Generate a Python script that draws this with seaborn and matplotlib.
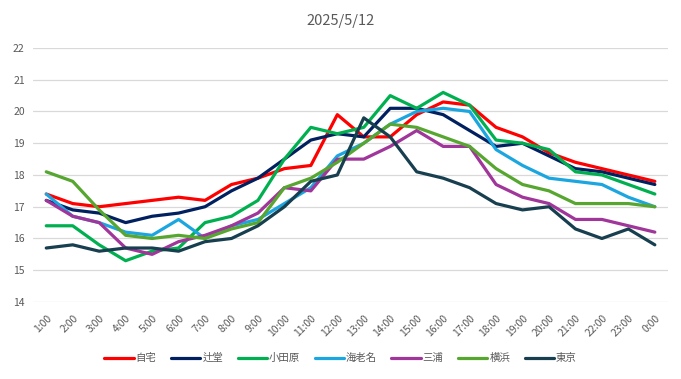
import numpy as np
import pandas as pd
import seaborn as sns
import matplotlib.pyplot as plt

hours = ["1:00", "2:00", "3:00", "4:00", "5:00", "6:00", "7:00", "8:00", "9:00", "10:00",
         "11:00", "12:00", "13:00", "14:00", "15:00", "16:00", "17:00", "18:00", "19:00",
         "20:00", "21:00", "22:00", "23:00", "0:00"]

jitaku = [17.4, 17.1, 17.0, 17.1, 17.2, 17.3, 17.2, 17.7, 17.9, 18.2, 18.3, 19.9,
          19.2, 19.2, 19.9, 20.3, 20.2, 19.5, 19.2, 18.7, 18.4, 18.2, 18.0, 17.8]
tsujido = [17.2, 16.9, 16.8, 16.5, 16.7, 16.8, 17.0, 17.5, 17.9, 18.5, 19.1, 19.3,
           19.2, 20.1, 20.1, 19.9, 19.4, 18.9, 19.0, 18.6, 18.2, 18.1, 17.9, 17.7]
odawara = [16.4, 16.4, 15.8, 15.3, 15.6, 15.7, 16.5, 16.7, 17.2, 18.5, 19.5, 19.3,
           19.5, 20.5, 20.1, 20.6, 20.2, 19.1, 19.0, 18.8, 18.1, 18.0, 17.7, 17.4]
ebina = [17.4, 16.7, 16.5, 16.2, 16.1, 16.6, 16.0, 16.4, 16.6, 17.1, 17.6, 18.6,
         19.0, 19.6, 20.0, 20.1, 20.0, 18.8, 18.3, 17.9, 17.8, 17.7, 17.3, 17.0]
miura = [17.2, 16.7, 16.5, 15.7, 15.5, 15.9, 16.1, 16.4, 16.8, 17.6, 17.5, 18.5,
         18.5, 18.9, 19.4, 18.9, 18.9, 17.7, 17.3, 17.1, 16.6, 16.6, 16.4, 16.2]
yokohama = [18.1, 17.8, 16.9, 16.1, 16.0, 16.1, 16.0, 16.3, 16.5, 17.6, 17.9, 18.4,
            19.0, 19.6, 19.5, 19.2, 18.9, 18.2, 17.7, 17.5, 17.1, 17.1, 17.1, 17.0]
tokyo = [15.7, 15.8, 15.6, 15.7, 15.7, 15.6, 15.9, 16.0, 16.4, 17.0, 17.8, 18.0,
         19.8, 19.2, 18.1, 17.9, 17.6, 17.1, 16.9, 17.0, 16.3, 16.0, 16.3, 15.8]

places = ["自宅", "辻堂", "小田原", "海老名", "三浦", "横浜", "東京"]
colors = ["#FF0000", "#002060", "#00B050", "#1CA6E0", "#A0359A", "#56A630", "#173F4F"]
series = [jitaku, tsujido, odawara, ebina, miura, yokohama, tokyo]

rows = []
for name, vals in zip(places, series):
    for i, v in enumerate(vals):
        rows.append({"x": i, "temp": v, "place": name})
df = pd.DataFrame(rows)

sns.set_theme(style="white")
plt.rcParams['font.family'] = ['Noto Sans CJK JP', 'DejaVu Sans']

fig = plt.figure(figsize=(6.81, 3.79), dpi=100)
ax = fig.add_axes([0.0485, 0.2032, 0.9325, 0.6702])

sns.lineplot(data=df, x="x", y="temp", hue="place", hue_order=places,
             palette=dict(zip(places, colors)), linewidth=2.3, ax=ax)

ax.set_xlim(-0.5, 23.5)
ax.set_ylim(14, 22)
ax.set_yticks(range(14, 23))
ax.set_xticks(range(len(hours)))
ax.set_xticklabels(hours, rotation=45, ha="right", rotation_mode="anchor")
ax.tick_params(axis="both", colors="#595959", labelsize=7.5, length=0)
ax.tick_params(axis="x", pad=8)
ax.tick_params(axis="y", pad=6)
ax.yaxis.grid(True, color="#D9D9D9", linewidth=0.9)
ax.set_axisbelow(True)
for s in ax.spines.values():
    s.set_visible(False)
ax.set_xlabel("")
ax.set_ylabel("")

fig.suptitle("2025/5/12", x=0.5, y=0.962, fontsize=10.5, color="#595959")

handles, labels = ax.get_legend_handles_labels()
ax.get_legend().remove()
fig.legend(handles, labels, loc="center", bbox_to_anchor=(0.5, 0.055), ncol=7,
           frameon=False, fontsize=7.5, handlelength=2.8, handletextpad=0.2,
           columnspacing=1.4, labelcolor="#595959")

fig.savefig("out.png", dpi=100)
